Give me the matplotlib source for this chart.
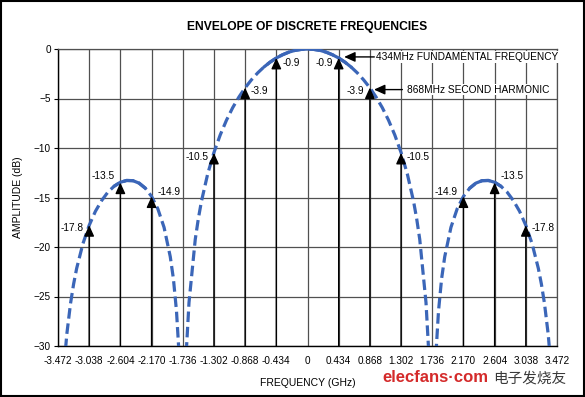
import numpy as np
import matplotlib
matplotlib.use("Agg")
import matplotlib.pyplot as plt
from matplotlib.patches import Rectangle

plt.rcParams['font.family'] = ['Liberation Sans', 'DejaVu Sans']

# ---------------------------------------------------------------------------
# data
env_freq = [-3.385, -3.350, -3.298, -3.255, -3.212, -3.125, -3.038, -2.951,
            -2.864, -2.778, -2.691, -2.604, -2.517, -2.430, -2.343, -2.257,
            -2.170, -2.083, -1.996, -1.910, -1.866, -1.823, -1.788, -1.684,
            -1.649, -1.562, -1.519, -1.476, -1.389, -1.302, -1.215, -1.128,
            -1.042, -0.955, -0.868, -0.781, -0.694, -0.608, -0.521, -0.434,
            -0.347, -0.260, -0.174, -0.087, 0.0,
            0.087, 0.174, 0.260, 0.347, 0.434, 0.521, 0.608, 0.694, 0.781,
            0.868, 0.955, 1.042, 1.128, 1.215, 1.302, 1.389, 1.476, 1.519,
            1.562, 1.649, 1.684, 1.788, 1.823, 1.866, 1.910, 1.996, 2.083,
            2.170, 2.257, 2.343, 2.430, 2.517, 2.604, 2.691, 2.778, 2.864,
            2.951, 3.038, 3.125, 3.212, 3.255, 3.298, 3.350, 3.385]
env_db = [-31.86, -28.84, -25.72, -23.75, -22.15, -19.66, -17.81, -16.39,
          -15.30, -14.46, -13.86, -13.46, -13.28, -13.30, -13.55, -14.06,
          -14.89, -16.14, -18.02, -20.97, -23.21, -26.48, -30.73, -30.20,
          -25.61, -19.23, -17.13, -15.39, -12.62, -10.46, -8.69, -7.20,
          -5.94, -4.86, -3.92, -3.12, -2.42, -1.83, -1.33, -0.91,
          -0.58, -0.32, -0.14, -0.04, 0.0,
          -0.04, -0.14, -0.32, -0.58, -0.91, -1.33, -1.83, -2.42, -3.12,
          -3.92, -4.86, -5.94, -7.20, -8.69, -10.46, -12.62, -15.39, -17.13,
          -19.23, -25.61, -30.20, -30.73, -26.48, -23.21, -20.97, -18.02, -16.14,
          -14.89, -14.06, -13.55, -13.30, -13.28, -13.46, -13.86, -14.46, -15.30,
          -16.39, -17.81, -19.66, -22.15, -23.75, -25.72, -28.84, -31.86]

harm_freq = [-3.038, -2.604, -2.170, -1.302, -0.868, -0.434,
             0.434, 0.868, 1.302, 2.170, 2.604, 3.038]
harm_db = [-17.8, -13.5, -14.9, -10.5, -3.9, -0.9,
           -0.9, -3.9, -10.5, -14.9, -13.5, -17.8]
harm_labels = ["-17.8", "-13.5", "-14.9", "-10.5", "-3.9", "-0.9",
               "-0.9", "-3.9", "-10.5", "-14.9", "-13.5", "-17.8"]

xtick_vals = [-3.472, -3.038, -2.604, -2.170, -1.736, -1.302, -0.868, -0.434,
              0.0, 0.434, 0.868, 1.302, 1.736, 2.170, 2.604, 3.038, 3.472]
xtick_labels = ["-3.472", "-3.038", "-2.604", "-2.170", "-1.736", "-1.302",
                "-0.868", "-0.434", "0", "0.434", "0.868", "1.302", "1.736",
                "2.170", "2.604", "3.038", "3.472"]
ytick_vals = [0, -5, -10, -15, -20, -25, -30]

callouts = ["434MHz FUNDAMENTAL FREQUENCY", "868MHz SECOND HARMONIC"]

# ---------------------------------------------------------------------------
# layout / styles
label_side = [-1, -1, 1, -1, 1, 1, -1, -1, 1, -1, 1, 1]   # -1 left of arrow, 1 right
label_dy = [-0.3, 0.7, 0.45, -0.4, -0.35, -0.5, -0.5, -0.35, -0.4, 0.45, 0.7, -0.3]
curve_color = '#3b66b8'
grid_color = '#505050'
head = 'head_length=0.55,head_width=0.25'

fig = plt.figure(figsize=(5.85, 3.97), dpi=100)
ax = fig.add_axes([58/585, 1-346/397, 499/585, 297/397])

ax.set_xlim(-3.472, 3.472)
ax.set_ylim(-30, 0)
ax.set_xticks(xtick_vals)
ax.set_xticklabels(xtick_labels)
ax.set_yticks(ytick_vals)
ax.tick_params(axis='x', length=0, pad=7.5, labelsize=7.2)
ax.tick_params(axis='y', length=3, pad=2, labelsize=7.2, direction='out')
ax.grid(True, color=grid_color, lw=0.9)
ax.set_axisbelow(True)
for s in ['top', 'right']:
    ax.spines[s].set_color(grid_color)
    ax.spines[s].set_linewidth(0.9)
for s in ['left', 'bottom']:
    ax.spines[s].set_color('black')
    ax.spines[s].set_linewidth(1.0)

# envelope: dashed, solid around the lobe peaks
f = np.array(env_freq)
d = np.array(env_db)
ax.plot(f, d, color=curve_color, lw=2.3, ls=(0, (3.3, 1.5)),
        dash_capstyle='butt', zorder=3)
keep = ((np.abs(f) < 1) & (d > -1.9)) | ((np.abs(f) > 2) & (d > -14.3))
ax.plot(f, np.ma.masked_where(~keep, d), color=curve_color, lw=2.3,
        solid_capstyle='round', zorder=3)

# harmonic arrows from the bottom
for x, v, lab, side, dy in zip(harm_freq, harm_db, harm_labels, label_side, label_dy):
    ax.annotate('', xy=(x, v), xytext=(x, -30),
                arrowprops=dict(arrowstyle='-|>,' + head, color='black', lw=1.0,
                                mutation_scale=12, shrinkA=0, shrinkB=0), zorder=4)
    ax.text(x + side*0.08, v + dy, lab, fontsize=7.3,
            ha='left' if side > 0 else 'right', va='center', zorder=5)

# callouts
ax.annotate('', xy=(0.51, -0.8), xytext=(0.93, -0.8),
            arrowprops=dict(arrowstyle='-|>,' + head, color='black', lw=1.0,
                            mutation_scale=12, shrinkA=0, shrinkB=0), zorder=4)
ax.text(0.95, -0.8, callouts[0], fontsize=7.3, ha='left', va='center',
        bbox=dict(facecolor='white', edgecolor='none', pad=0.5), zorder=5)
ax.annotate('', xy=(0.925, -4.1), xytext=(1.32, -4.1),
            arrowprops=dict(arrowstyle='-|>,' + head, color='black', lw=1.0,
                            mutation_scale=12, shrinkA=0, shrinkB=0), zorder=4)
ax.text(1.385, -4.1, callouts[1], fontsize=7.3, ha='left', va='center',
        bbox=dict(facecolor='white', edgecolor='none', pad=0.5), zorder=5)

ax.set_xlabel("FREQUENCY (GHz)", fontsize=7.5, labelpad=8)
ax.set_ylabel("AMPLITUDE (dB)", fontsize=7.5, labelpad=8)
fig.text(307/585, 1-27/397, "ENVELOPE OF DISCRETE FREQUENCIES", fontsize=8.7,
         fontweight='bold', ha='center', va='center')

# watermark
fig.text(382/585, 1-377/397, "elecfans\u00b7com", fontsize=12, fontweight='bold',
         color='#d42a2a', ha='left', va='center')
fig.text(493/585, 1-379/397, "电子发烧友", fontsize=10.5, color='#3a3a3a',
         ha='left', va='center', family=['Noto Sans CJK SC', 'DejaVu Sans'])

# outer frame
fig.patches.append(Rectangle((0.002, 0.002), 0.996, 0.995, transform=fig.transFigure,
                             fill=False, edgecolor='black', lw=1.5))

fig.savefig("out.png", dpi=100)
